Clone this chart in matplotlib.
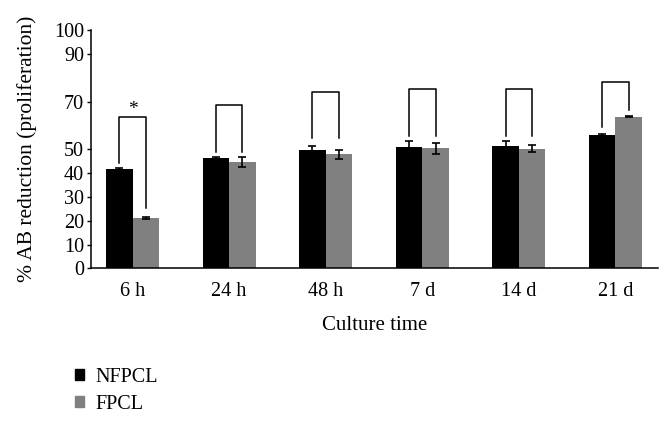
import numpy as np
import matplotlib.pyplot as plt
from matplotlib.patches import Patch

times = ["6 h", "24 h", "48 h", "7 d", "14 d", "21 d"]
nfpcl = [41.8, 46.4, 49.8, 51.0, 51.3, 56.1]
nfpcl_err = [0.5, 0.4, 1.5, 2.4, 2.1, 0.5]
fpcl = [21.1, 44.6, 47.9, 50.4, 50.3, 63.7]
fpcl_err = [0.3, 2.0, 2.0, 2.2, 1.6, 0.3]

# significance brackets: top, left leg end, right leg end
br_top = [63.7, 68.6, 73.9, 75.3, 75.3, 78.4]
br_left = [44.1, 49.0, 54.6, 55.6, 55.6, 59.2]
br_right = [25.2, 49.0, 54.6, 55.6, 55.6, 66.5]
stars = ["*", "", "", "", "", ""]

plt.rcParams["font.family"] = ["Liberation Serif", "DejaVu Serif"]

fig = plt.figure(figsize=(6.72, 4.21), dpi=100)
ax = fig.add_axes([0.1354, 0.3627, 0.8436, 0.5653])

x = np.arange(len(times))
w = 0.275

ax.bar(x - w / 2, nfpcl, w, color="black", label="NFPCL")
ax.bar(x + w / 2, fpcl, w, color="#808080", label="FPCL")
ax.errorbar(x - w / 2, nfpcl, yerr=nfpcl_err, fmt="none", ecolor="black",
            elinewidth=1.2, capsize=3, capthick=1.2)
ax.errorbar(x + w / 2, fpcl, yerr=fpcl_err, fmt="none", ecolor="black",
            elinewidth=1.2, capsize=3, capthick=1.2)

for i in range(len(times)):
    ax.plot([x[i] - w / 2, x[i] - w / 2, x[i] + w / 2, x[i] + w / 2],
            [br_left[i], br_top[i], br_top[i], br_right[i]],
            color="black", lw=1.1)
    if stars[i]:
        ax.text(x[i], br_top[i] - 0.5, stars[i], ha="center", va="bottom",
                fontsize=14)

ax.set_xlim(-0.43, 5.44)
ax.set_ylim(0, 100)
ax.set_yticks([0, 10, 20, 30, 40, 50, 70, 90, 100])
ax.set_xticks(x)
ax.set_xticklabels(times)
ax.tick_params(axis="y", labelsize=14.5, length=3, width=1, pad=2)
ax.tick_params(axis="x", labelsize=14.5, length=0, pad=10)

for s in ["top", "right"]:
    ax.spines[s].set_visible(False)
ax.spines["left"].set_linewidth(1.1)
ax.spines["bottom"].set_linewidth(1.1)

ax.set_ylabel("% AB reduction (proliferation)", fontsize=15.5, labelpad=12)
ax.set_xlabel("Culture time", fontsize=15, labelpad=11)

handles = [Patch(color="black"), Patch(color="#808080")]
fig.legend(handles, ["NFPCL", "FPCL"], loc="upper left",
           bbox_to_anchor=(0.085, 0.17), frameon=False, fontsize=14.5,
           handlelength=0.45, handleheight=0.45, handletextpad=0.55,
           labelspacing=0.4)

plt.savefig("out.png", dpi=100)
plt.close()
